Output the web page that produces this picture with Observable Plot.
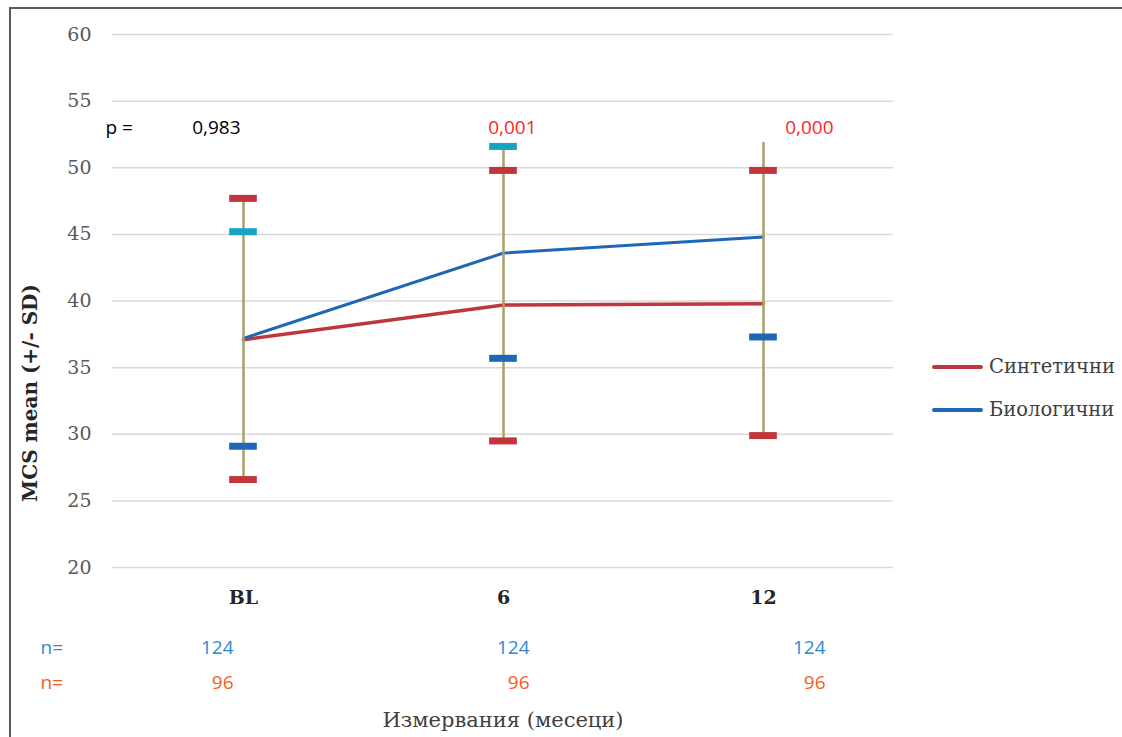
<!DOCTYPE html>
<html>
<head>
<meta charset="utf-8">
<script src="https://cdn.jsdelivr.net/npm/d3@7"></script>
<script src="https://cdn.jsdelivr.net/npm/@observablehq/plot@0.6"></script>
<style>
  html, body { margin: 0; padding: 0; background: #fff; overflow: hidden; }
  #wrap { position: relative; width: 1122px; height: 737px; overflow: hidden; }
  #frame { position: absolute; left: 9px; top: 7px; right: -20px; bottom: -20px;
           border-left: 2px solid #5a5a5a; border-top: 2px solid #5a5a5a; pointer-events: none; }
  #chart { position: absolute; left: 0; top: 0; }
  #legend { position: absolute; left: 932px; top: 345px; font-family: "DejaVu Serif", serif;
            font-size: 19.5px; color: #404040; }
  #legend .item { display: flex; align-items: center; height: 43px; }
  #legend .swatch { width: 51px; height: 4px; border-radius: 2px; margin-right: 6px; }
</style>
</head>
<body>
<div id="wrap">
  <div id="chart"></div>
  <div id="legend"></div>
  <div id="frame"></div>
</div>
<script>
// Measurement points (months since baseline)
const timepoints = ["BL", "6", "12"];

// Synthetic mesh group: mean and mean ± SD
const synthMean = [37.1, 39.7, 39.8];
const synthHigh = [47.7, 49.8, 49.8];
const synthLow  = [26.6, 29.5, 29.9];

// Biological mesh group: mean and mean ± SD
const bioMean = [37.2, 43.6, 44.8];
const bioHigh = [45.2, 51.6, 51.9];
const bioLow  = [29.1, 35.7, 37.3];
// upper SD marker is only drawn where present
const bioHighMarker = [true, true, false];

// Between-group p-values and group sizes
const pValues = [0.983, 0.001, 0.000];
const nBio   = [124, 124, 124];
const nSynth = [96, 96, 96];

const yTicks = [20, 25, 30, 35, 40, 45, 50, 55, 60];

const seriesNames = ["Синтетични", "Биологични"];
const yTitle = "MCS mean (+/- SD)";
const xTitle = "Измервания (месеци)";

// colours
const RED = "#c0363c", BLUE = "#1f66b6", CYAN = "#16a3c2", OLIVE = "#a99f68";
const P_RED = "#ff1f1f", N_BLUE = "#2d88d6", N_ORANGE = "#f85a24";

const rows = timepoints.map((t, i) => ({
  t,
  synthMean: synthMean[i], synthHigh: synthHigh[i], synthLow: synthLow[i],
  bioMean: bioMean[i], bioHigh: bioHigh[i], bioLow: bioLow[i],
  bioMark: bioHighMarker[i],
  top: Math.max(synthHigh[i], bioHigh[i]),
  bottom: Math.min(synthLow[i], bioLow[i]),
  p: pValues[i], nBio: nBio[i], nSynth: nSynth[i]
}));

const W = 1122, H = 737;
const mL = 112, mR = 229, mT = 34, mB = 170;
const band = (W - mL - mR) / timepoints.length;
const capW = 28;
const capInset = (band - capW) / 2;

const sansFont = "'Open Sans', 'Noto Sans', sans-serif";
const serifFont = "'DejaVu Serif', serif";
const fmtP = v => d3.format(".3f")(v).replace(".", ",");

// horizontal shifts of the annotation columns relative to each time point
const pShift = [-3, 33, 70];
const nShift = [-10, 26, 62];

const perColumn = (shifts, opts) => rows.map((d, i) =>
  Plot.text([d], {x: "t", dx: shifts[i], textAnchor: "end", lineAnchor: "middle", ...opts}));

const chart = Plot.plot({
  width: W, height: H,
  marginLeft: mL, marginRight: mR, marginTop: mT, marginBottom: mB,
  style: {background: "transparent", overflow: "visible"},
  x: {type: "band", domain: timepoints, padding: 0},
  y: {domain: [20, 60]},
  marks: [
    Plot.ruleY(yTicks, {stroke: "#d9d9d9", strokeWidth: 1.5}),
    Plot.axisY(yTicks, {tickSize: 0, tickPadding: 21, label: null, fontSize: 19,
      fontFamily: serifFont, color: "#595959", fill: "#595959"}),
    Plot.axisX({tickSize: 0, tickPadding: 23, label: null, fontSize: 19, fontWeight: "bold",
      fontFamily: serifFont, color: "#262626", fill: "#262626"}),
    // group means
    Plot.line(rows, {x: "t", y: "synthMean", stroke: RED, strokeWidth: 3.5}),
    Plot.line(rows, {x: "t", y: "bioMean", stroke: BLUE, strokeWidth: 3}),
    // SD range
    Plot.ruleX(rows, {x: "t", y1: "bottom", y2: "top", stroke: OLIVE, strokeWidth: 2.5}),
    // SD markers
    Plot.tickY(rows, {x: "t", y: "synthHigh", stroke: RED, strokeWidth: 7, insetLeft: capInset, insetRight: capInset}),
    Plot.tickY(rows, {x: "t", y: "synthLow", stroke: RED, strokeWidth: 7, insetLeft: capInset, insetRight: capInset}),
    Plot.tickY(rows, {x: "t", y: "bioLow", stroke: BLUE, strokeWidth: 7, insetLeft: capInset, insetRight: capInset}),
    Plot.tickY(rows, {filter: "bioMark", x: "t", y: "bioHigh", stroke: CYAN, strokeWidth: 7, insetLeft: capInset, insetRight: capInset}),
    // p-values row
    Plot.text(["p ="], {frameAnchor: "top-left", dx: -7, dy: 93, textAnchor: "start", lineAnchor: "middle",
      fontFamily: sansFont, fontSize: 19, fill: "#000"}),
    ...perColumn(pShift, {text: d => fmtP(d.p), frameAnchor: "top", dy: 93,
      fontFamily: sansFont, fontSize: 19, fill: d => d.p < 0.05 ? P_RED : "#000"}),
    // group sizes
    Plot.text(["n="], {frameAnchor: "bottom-left", dx: -72, dy: 80, textAnchor: "start", lineAnchor: "middle",
      fontFamily: sansFont, fontSize: 19, fill: N_BLUE}),
    Plot.text(["n="], {frameAnchor: "bottom-left", dx: -72, dy: 115, textAnchor: "start", lineAnchor: "middle",
      fontFamily: sansFont, fontSize: 19, fill: N_ORANGE}),
    ...perColumn(nShift, {text: "nBio", frameAnchor: "bottom", dy: 80,
      fontFamily: sansFont, fontSize: 19, fill: N_BLUE}),
    ...perColumn(nShift, {text: "nSynth", frameAnchor: "bottom", dy: 115,
      fontFamily: sansFont, fontSize: 19, fill: N_ORANGE}),
    // axis titles
    Plot.text([xTitle], {frameAnchor: "bottom", dy: 153, lineAnchor: "middle", fontFamily: serifFont,
      fontSize: 21, fill: "#404040"}),
    Plot.text([yTitle], {frameAnchor: "left", dx: -82, dy: 92, rotate: -90, textAnchor: "middle",
      lineAnchor: "middle", fontFamily: serifFont, fontWeight: "bold", fontSize: 20, fill: "#262626"})
  ]
});
document.getElementById("chart").append(chart);

// legend
const legend = document.getElementById("legend");
[[seriesNames[0], RED], [seriesNames[1], BLUE]].forEach(([name, color]) => {
  const item = document.createElement("div");
  item.className = "item";
  const sw = document.createElement("span");
  sw.className = "swatch";
  sw.style.background = color;
  const label = document.createElement("span");
  label.textContent = name;
  item.append(sw, label);
  legend.append(item);
});
</script>
</body>
</html>
